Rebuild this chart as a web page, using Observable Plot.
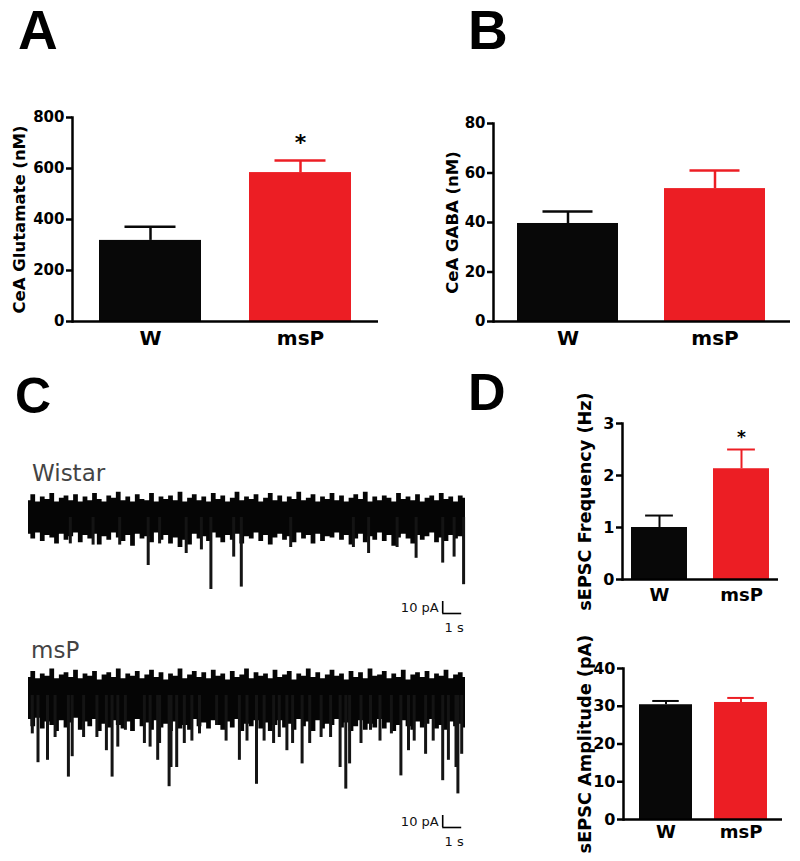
<!DOCTYPE html>
<html>
<head>
<meta charset="utf-8">
<script src="https://cdn.jsdelivr.net/npm/d3@7"></script>
<script src="https://cdn.jsdelivr.net/npm/@observablehq/plot@0.6"></script>
<style>
  body { margin: 0; background: white; }
  #chart { position: relative; width: 800px; height: 861px; background: white; overflow: hidden; }
  .letter { position: absolute; font-family: "Liberation Sans", Arial, sans-serif; font-weight: bold; line-height: 1; color: #000; }
  .trace-label { position: absolute; font-family: "DejaVu Sans", sans-serif; line-height: 1; color: #444; font-size: 23px; }
  #chart svg { position: absolute; }
</style>
</head>
<body>
<div id="chart"></div>
<script>
// ---------- data ----------
const cats = ["W", "msP"];
const barColors = ["#080808", "#ec1e24"];

const glutMean = [318, 584];
const glutSem = [54, 47];
const glutStars = ["", "*"];
const glutTicks = [0, 200, 400, 600, 800];

const gabaMean = [39.6, 53.7];
const gabaSem = [4.8, 7.3];
const gabaStars = ["", ""];
const gabaTicks = [0, 20, 40, 60, 80];

const freqMean = [1.0, 2.13];
const freqSem = [0.23, 0.37];
const freqStars = ["", "*"];
const freqTicks = [0, 1, 2, 3];

const ampMean = [30.4, 31.0];
const ampSem = [1.0, 1.2];
const ampStars = ["", ""];
const ampTicks = [0, 10, 20, 30, 40];

// sEPSC traces (pA): upper / lower noise envelope sampled across the 23 s sweep, and event peaks
const wistarTop = [14,19,13,17,15,20,13,16,18,14,
  19,13,17,14,20,15,13,18,16,21,
  14,17,13,19,15,14,20,13,17,15,
  18,14,21,13,16,19,14,17,13,20,
  15,18,13,16,21,14,17,15,19,13,
  16,20,14,18,13,17,15,21,14,16,
  19,13,17,15,20,14,18,13,16,19,
  15,21,13,17,14,18,16,13,20,15,
  17,14,19,13,16,18,14,20,15,17,
  13,18,16];
const wistarBot = [-14,-18,-13,-20,-15,-17,-22,-14,-19,-16,
  -13,-21,-15,-18,-14,-23,-16,-19,-13,-17,
  -20,-15,-24,-14,-18,-16,-21,-13,-19,-15,
  -22,-17,-25,-19,-23,-14,-18,-16,-20,-13,
  -17,-21,-15,-19,-14,-22,-16,-18,-13,-20,
  -15,-23,-17,-14,-19,-16,-21,-13,-18,-15,
  -22,-14,-20,-16,-17,-13,-19,-15,-23,-18,
  -14,-21,-16,-19,-13,-20,-15,-24,-17,-14,
  -18,-22,-15,-19,-16,-13,-21,-17,-20,-15,
  -18,-16,-19];
const wistarSpikeT = [2.2, 3.4, 4.8, 6.3, 6.9, 8.3, 9.1, 9.6, 10.8, 11.2, 13.8, 17.1, 17.9, 19.4, 20.4, 21.8, 22.4, 22.9];
const wistarSpikeA = [-22, -23, -23, -40, -22, -30, -27, -60, -33, -58, -25, -25, -30, -25, -34, -38, -33, -56];

const mspTop = [15,20,14,18,16,22,14,17,19,15,
  21,14,18,16,20,13,17,19,15,22,
  14,18,16,20,14,17,21,15,19,13,
  18,16,22,14,17,20,15,19,14,21,
  16,18,13,20,15,17,22,14,19,16,
  18,14,21,15,17,20,13,18,16,22,
  15,19,14,17,21,16,18,13,20,15,
  19,14,22,16,17,20,14,18,15,21,
  13,17,19,15,20,14,18,16,21,14,
  17,19,15];
const mspBot = [-20,-26,-19,-28,-22,-25,-30,-21,-27,-23,
  -19,-29,-22,-26,-20,-30,-24,-27,-21,-25,
  -28,-22,-30,-20,-26,-23,-29,-21,-27,-24,
  -30,-22,-28,-25,-29,-20,-26,-23,-28,-21,
  -25,-29,-22,-27,-20,-30,-24,-26,-21,-28,
  -23,-30,-25,-21,-27,-24,-29,-20,-26,-22,
  -30,-21,-28,-24,-25,-20,-27,-23,-30,-26,
  -21,-29,-24,-27,-20,-28,-23,-30,-25,-21,
  -26,-29,-22,-27,-24,-20,-28,-25,-29,-22,
  -26,-24,-27];
const mspSpikeT = [0.2,0.5,1.0,1.4,2.1,2.3,2.9,3.6,4.1,4.4,4.7,5.1,6.1,6.4,6.8,6.9,7.4,7.5,7.8,8.2,8.6,9.0,9.9,10.4,11.1,11.5,12.0,12.4,12.9,13.2,13.6,13.9,14.4,14.8,15.4,15.9,16.4,16.7,16.9,17.5,18.0,18.5,19.1,19.6,20.0,20.3,20.9,21.3,21.8,22.1,22.5,22.6,22.8];
const mspSpikeA = [-32,-56,-54,-35,-68,-51,-35,-35,-46,-68,-43,-29,-40,-43,-54,-40,-76,-60,-60,-40,-38,-32,-25,-38,-54,-38,-74,-38,-40,-35,-46,-40,-57,-40,-35,-35,-60,-78,-57,-40,-29,-38,-32,-67,-46,-38,-49,-38,-71,-54,-60,-82,-49];

const traceSeconds = 23;

// ---------- layout helpers ----------
const chart = document.getElementById("chart");
function place(el, left, top) {
  el.style.left = left + "px";
  el.style.top = top + "px";
  chart.appendChild(el);
}
function letter(txt, left, top, size) {
  const d = document.createElement("div");
  d.className = "letter";
  d.textContent = txt;
  d.style.fontSize = size + "px";
  place(d, left, top);
}
function traceLabel(txt, left, top) {
  const d = document.createElement("div");
  d.className = "trace-label";
  d.textContent = txt;
  place(d, left, top);
}

function barPanel(o) {
  const data = cats.map((c, i) => ({cat: c, mean: o.mean[i], err: o.mean[i] + o.sem[i], color: barColors[i], star: o.stars[i]}));
  const innerW = o.x1 - o.x0, innerH = o.yZero - o.yTop;
  const mL = o.mL, mR = 12, mT = 40, mB = 45;
  const step = innerW / (cats.length - o.pIn + 2 * o.pOut);
  const bw = step * (1 - o.pIn);
  const cap = bw * 0.25;
  const svg = Plot.plot({
    width: mL + innerW + mR,
    height: mT + innerH + mB,
    marginLeft: mL, marginRight: mR, marginTop: mT, marginBottom: mB,
    style: {fontFamily: "'DejaVu Sans', sans-serif", background: "transparent", overflow: "visible", color: "black"},
    x: {type: "band", domain: cats, paddingInner: o.pIn, paddingOuter: o.pOut},
    y: {domain: [o.ticks[0], o.ticks[o.ticks.length - 1]]},
    marks: [
      Plot.barY(data, {x: "cat", y: "mean", fill: "color"}),
      Plot.ruleX(data, {x: "cat", y1: "mean", y2: "err", stroke: "color", strokeWidth: o.ew}),
      Plot.tickY(data, {x: "cat", y: "err", stroke: "color", strokeWidth: o.ew, insetLeft: cap, insetRight: cap}),
      Plot.axisY({ticks: o.ticks, tickFormat: d => String(d), tickSize: 6, tickPadding: 2, fontSize: o.tickFont, fontWeight: "bold", strokeWidth: 2.5, fill: "black", label: null}),
      Plot.axisX({tickSize: 0, tickPadding: o.xPad, fontSize: o.xFont, fontWeight: "bold", fill: "black", label: null}),
      Plot.frame({anchor: "left", strokeWidth: 2.5}),
      Plot.ruleY([0], {strokeWidth: 2.5}),
      Plot.text([o.yLabel], {frameAnchor: "left", textAnchor: "middle", lineAnchor: "middle", dx: -o.labOff, rotate: -90, fontSize: o.labFont, fontWeight: "bold", fill: "black"}),
      Plot.text(data.filter(d => d.star), {x: "cat", y: "err", text: "star", dy: o.starDy, fontSize: o.starFont, fontWeight: "bold", fill: "black", lineAnchor: "middle"})
    ]
  });
  place(svg, o.x0 - mL, o.yTop - mT);
}

function tracePanel(o) {
  const n = o.top.length;
  const env = o.top.map((v, i) => ({t: i * traceSeconds / (n - 1), hi: v, lo: o.bot[i]}));
  const spikes = o.spikeT.map((t, i) => ({t, a: o.spikeA[i]}));
  const pxPerPA = 1.2;
  const mL = 28, mR = 15;
  const innerW = o.x1 - o.x0;
  const h = (o.yDom[1] - o.yDom[0]) * pxPerPA;
  const sb = o.sb; // scale bar anchor (s, pA)
  const svg = Plot.plot({
    width: mL + innerW + mR,
    height: h,
    marginLeft: mL, marginRight: mR, marginTop: 0, marginBottom: 0,
    style: {fontFamily: "'DejaVu Sans', sans-serif", background: "transparent", overflow: "visible"},
    x: {domain: [0, traceSeconds], axis: null},
    y: {domain: o.yDom, axis: null},
    marks: [
      Plot.areaY(env, {x: "t", y1: "lo", y2: "hi", fill: "#050505", curve: "step"}),
      Plot.ruleX(spikes, {x: "t", y1: 0, y2: "a", stroke: "#141414", strokeWidth: 3}),
      Plot.ruleX([sb.t], {y1: sb.y, y2: sb.y + 10, stroke: "black", strokeWidth: 1.6}),
      Plot.ruleY([sb.y], {x1: sb.t, x2: sb.t + 1, stroke: "black", strokeWidth: 1.6}),
      Plot.text(["10 pA"], {x: sb.t, y: sb.y + 5, dx: -4, textAnchor: "end", fontSize: 13, fill: "#111"}),
      Plot.text(["1 s"], {x: sb.t + 0.6, y: sb.y - 12, fontSize: 13, fill: "#111"})
    ]
  });
  place(svg, o.x0 - mL, o.center - o.yDom[1] * pxPerPA);
}

// ---------- panels ----------
letter("A", 18, 3, 55);
letter("B", 468, 3, 55);
letter("C", 15, 371, 50);
letter("D", 468, 366, 52);

barPanel({mean: glutMean, sem: glutSem, stars: glutStars, ticks: glutTicks,
  x0: 72, x1: 378, yTop: 117, yZero: 321, mL: 72, pIn: 0.32, pOut: 0.18,
  ew: 2.5, tickFont: 15, xFont: 20, xPad: 9, labFont: 16.5, labOff: 53,
  yLabel: "CeA Glutamate (nM)", starDy: -18, starFont: 22});

barPanel({mean: gabaMean, sem: gabaSem, stars: gabaStars, ticks: gabaTicks,
  x0: 493, x1: 790, yTop: 123, yZero: 321, mL: 100, pIn: 0.31, pOut: 0.16,
  ew: 2.5, tickFont: 15, xFont: 20, xPad: 9, labFont: 16.5, labOff: 41,
  yLabel: "CeA GABA (nM)", starDy: -18, starFont: 22});

barPanel({mean: freqMean, sem: freqSem, stars: freqStars, ticks: freqTicks,
  x0: 622, x1: 778, yTop: 423, yZero: 579, mL: 90, pIn: 0.32, pOut: 0.1,
  ew: 2, tickFont: 16, xFont: 18, xPad: 9, labFont: 17.7, labOff: 37,
  yLabel: "sEPSC Frequency (Hz)", starDy: -12, starFont: 17});

barPanel({mean: ampMean, sem: ampSem, stars: ampStars, ticks: ampTicks,
  x0: 623, x1: 782, yTop: 668, yZero: 819, mL: 90, pIn: 0.30, pOut: 0.2,
  ew: 2, tickFont: 16, xFont: 18, xPad: 6, labFont: 17.7, labOff: 38,
  yLabel: "sEPSC Amplitude (pA)", starDy: -12, starFont: 17});

traceLabel("Wistar", 32, 462);
traceLabel("msP", 31, 639);

tracePanel({top: wistarTop, bot: wistarBot, spikeT: wistarSpikeT, spikeA: wistarSpikeA,
  x0: 28, x1: 465, center: 517, yDom: [-100, 30], sb: {t: 21.8, y: -80}});
tracePanel({top: mspTop, bot: mspBot, spikeT: mspSpikeT, spikeA: mspSpikeA,
  x0: 28, x1: 465, center: 695, yDom: [-135, 30], sb: {t: 21.8, y: -110}});
</script>
</body>
</html>
